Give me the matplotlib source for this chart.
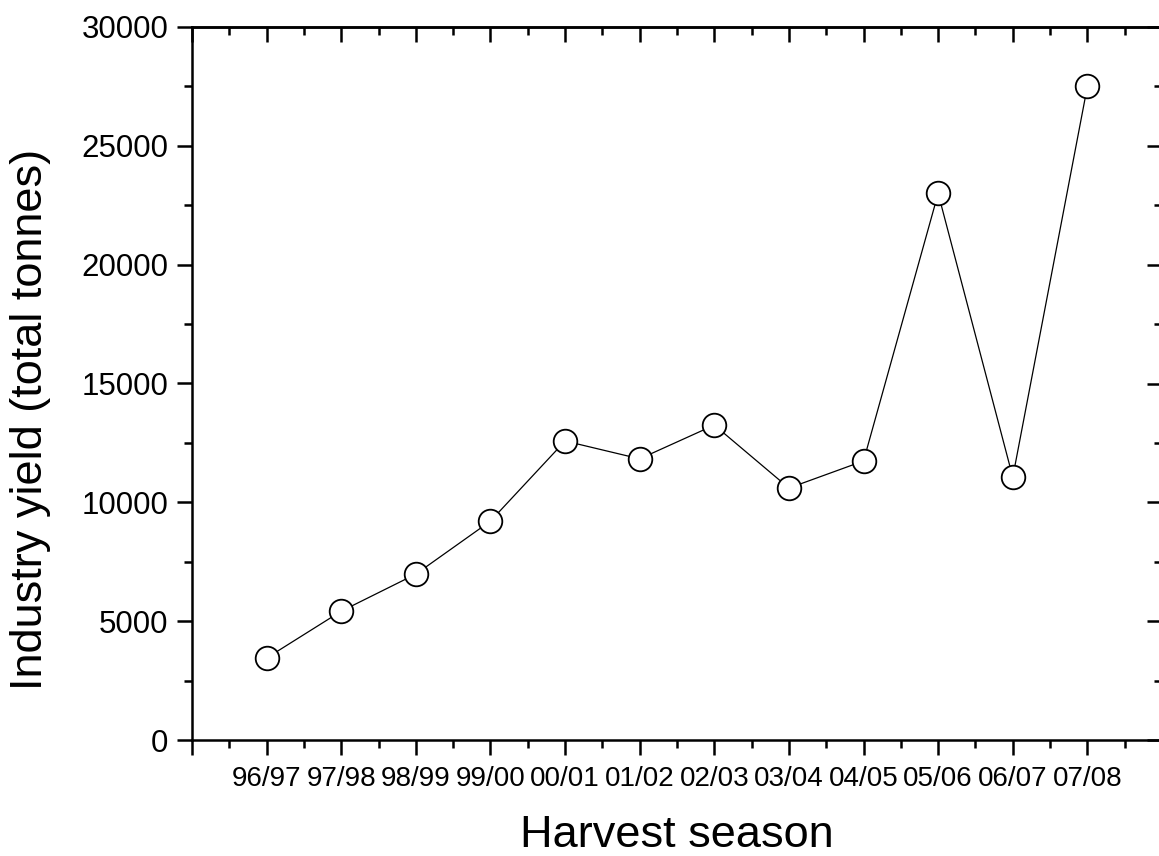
import matplotlib
matplotlib.use("Agg")
import matplotlib.pyplot as plt
from matplotlib.ticker import MultipleLocator

plt.rcParams['font.family'] = ['Liberation Sans', 'DejaVu Sans']

seasons = ['96/97', '97/98', '98/99', '99/00', '00/01', '01/02',
           '02/03', '03/04', '04/05', '05/06', '06/07', '07/08']
yield_tonnes = [3450, 5420, 6980, 9210, 12580, 11830,
                13250, 10600, 11740, 23000, 11060, 27500]

x = list(range(1, len(seasons) + 1))

fig = plt.figure(figsize=(11.59, 8.56), dpi=100)
ax = fig.add_axes([192 / 1159, 1 - 740 / 856, (1162 - 192) / 1159, (740 - 27) / 856])

ax.plot(x, yield_tonnes, color='black', linewidth=0.9, marker='o',
        markersize=17, markerfacecolor='white', markeredgecolor='black',
        markeredgewidth=1.3, zorder=3, clip_on=False)

ax.set_xlim(0, 13)
ax.set_ylim(0, 30000)

# major tick at x=0 too (left corner), unlabeled
ax.set_xticks([0] + x)
ax.set_xticklabels([''] + seasons, fontsize=20)
ax.xaxis.set_minor_locator(MultipleLocator(0.5))
ax.yaxis.set_major_locator(MultipleLocator(5000))
ax.yaxis.set_minor_locator(MultipleLocator(2500))
ax.tick_params(axis='y', labelsize=22.5)

for s in ax.spines.values():
    s.set_linewidth(1.8)

ax.tick_params(which='major', direction='out', length=11, width=1.8, pad=6)
ax.tick_params(which='minor', direction='out', length=5.5, width=1.8)
ax.tick_params(axis='x', which='major', pad=8)

top = ax.secondary_xaxis('top')
top.set_xticks([0] + x)
top.xaxis.set_minor_locator(MultipleLocator(0.5))
top.tick_params(which='major', direction='in', length=11, width=1.8, labeltop=False)
top.tick_params(which='minor', direction='in', length=5.5, width=1.8)
top.spines['top'].set_linewidth(1.8)

right = ax.secondary_yaxis('right')
right.yaxis.set_major_locator(MultipleLocator(5000))
right.yaxis.set_minor_locator(MultipleLocator(2500))
right.tick_params(which='major', direction='in', length=11, width=1.8, labelright=False)
right.tick_params(which='minor', direction='in', length=5.5, width=1.8)
right.spines['right'].set_linewidth(1.8)

ax.set_xlabel('Harvest season', fontsize=32.5, labelpad=16)
ax.set_ylabel('Industry yield (total tonnes)', fontsize=32.5)
ax.yaxis.set_label_coords(-0.145, 0.449)

fig.savefig('out.png', dpi=100)
